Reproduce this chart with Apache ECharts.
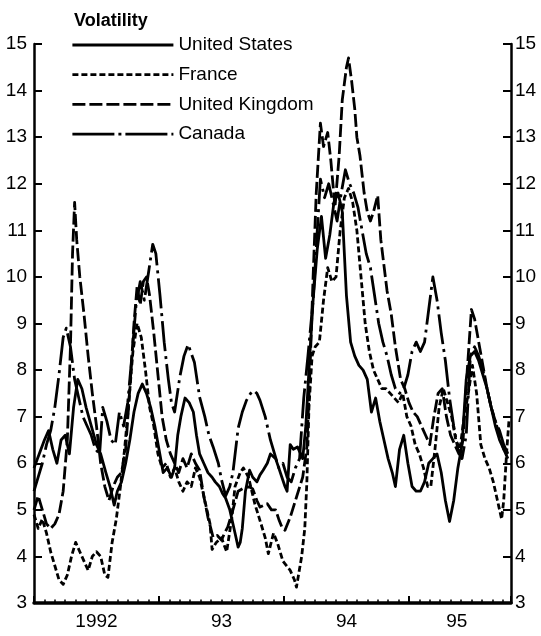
<!DOCTYPE html>
<html>
<head>
<meta charset="utf-8">
<script src="https://cdn.jsdelivr.net/npm/echarts@6/dist/echarts.min.js"></script>
<style>
  html, body { margin: 0; padding: 0; background: #fff; }
  #chart { width: 541px; height: 636px; }
</style>
</head>
<body>
<div id="chart"></div>
<script>
// Time is measured in months from January 1992.
const yearLabels = ['1992', '93', '94', '95'];
const yearLabelMonths = [6, 18, 30, 40.6];

const seriesNames = ['United States', 'France', 'United Kingdom', 'Canada'];

const unitedStates = [
  [0,5.9],[0.5,6.2],[1,6.5],[1.4,6.7],[1.8,6.3],[2.2,6.0],[2.6,6.5],[3,6.6],[3.4,6.2],[3.8,7.2],
  [4.2,7.8],[4.6,7.6],[5,7.2],[5.5,6.8],[6,6.4],[6.4,6.2],[6.9,5.8],[7.3,5.5],[7.7,5.1],[8.0,5.4],
  [8.4,5.6],[8.8,6.0],[9.2,6.5],[9.6,7.1],[10.0,7.5],[10.4,7.7],[10.8,7.5],[11.2,7.2],[11.6,6.8],[12.0,6.3],
  [12.4,5.8],[12.8,5.9],[13.2,5.7],[13.5,5.9],[13.8,6.6],[14.1,7.0],[14.5,7.4],[14.9,7.3],[15.3,7.1],[15.6,6.6],
  [15.9,6.2],[16.3,6.0],[16.7,5.8],[17.1,5.7],[17.4,5.6],[17.8,5.5],[18.1,5.35],[18.4,5.25],[18.8,5.0],[19.1,4.7],
  [19.4,4.4],[19.6,4.2],[19.8,4.3],[20.0,4.6],[20.3,5.4],[20.7,5.85],[21.0,5.7],[21.4,5.6],[21.7,5.75],[22.0,5.85],
  [22.4,6.0],[22.7,6.2],[23.2,6.1],[23.5,5.9],[23.8,5.7],[24.1,5.5],[24.3,5.4],[24.6,6.4],[24.9,6.3],[25.3,6.35],
  [25.8,6.1],[26.1,6.8],[26.4,8.0],[26.8,9.5],[27.2,10.6],[27.6,11.3],[28.0,10.4],[28.4,10.9],[28.8,11.6],[29.2,11.8],
  [29.6,11.4],[30.0,9.6],[30.4,8.6],[30.8,8.3],[31.2,8.1],[31.6,8.0],[32.0,7.8],[32.4,7.1],[32.8,7.4],[33.2,6.9],
  [33.6,6.5],[34.0,6.1],[34.4,5.8],[34.7,5.5],[35.1,6.3],[35.5,6.6],[35.9,6.0],[36.3,5.5],[36.7,5.4],[37.1,5.4],
  [37.5,5.6],[37.9,6.0],[38.3,6.1],[38.7,6.2],[39.1,5.8],[39.5,5.2],[39.9,4.75],[40.3,5.2],[40.7,5.9],[41.1,6.4],
  [41.5,7.8],[41.9,8.3],[42.3,8.4],[42.7,8.2],[43.1,7.9],[43.5,7.6],[43.9,7.2],[44.3,6.8],[44.7,6.5],[45.1,6.3],
  [45.5,6.1]
];

const france = [
  [0,4.9],[0.4,4.6],[0.8,4.8],[1.2,4.5],[1.6,4.1],[2.0,3.8],[2.4,3.5],[2.8,3.4],[3.2,3.6],[3.6,4.0],
  [4.0,4.3],[4.4,4.1],[4.8,3.9],[5.2,3.7],[5.6,4.0],[6.0,4.1],[6.4,4.0],[6.8,3.6],[7.1,3.55],[7.5,4.3],
  [7.9,4.8],[8.3,5.5],[8.7,6.3],[9.1,7.3],[9.5,8.4],[9.9,9.0],[10.3,8.7],[10.7,8.0],[11.1,7.2],[11.5,6.8],
  [11.9,6.2],[12.3,5.9],[12.7,6.0],[13.1,5.7],[13.5,5.9],[13.9,5.6],[14.3,5.4],[14.7,5.6],[15.1,5.5],[15.5,5.9],
  [15.9,5.7],[16.4,5.2],[16.9,4.7],[17.1,4.15],[17.5,4.3],[18.0,4.4],[18.5,4.1],[19.0,4.84],[19.3,5.5],[19.8,5.8],
  [20.1,5.9],[20.6,5.7],[21.2,5.13],[21.7,4.77],[22.2,4.4],[22.5,4.06],[23.0,4.5],[23.4,4.27],[23.9,3.9],[24.6,3.7],
  [25.0,3.5],[25.2,3.34],[25.7,4.0],[26.0,4.6],[26.2,5.6],[26.4,7.2],[26.7,8.3],[27.0,8.5],[27.4,8.6],[27.8,9.5],
  [28.2,10.2],[28.6,9.9],[29.0,10.0],[29.4,11.0],[29.8,11.7],[30.2,11.9],[30.6,11.6],[31.0,11.0],[31.4,10.0],[31.8,9.0],
  [32.2,8.4],[32.6,8.0],[33.0,7.8],[33.4,7.6],[33.8,7.6],[34.2,7.5],[34.6,7.4],[35.0,7.3],[35.4,7.5],[35.8,7.0],
  [36.2,6.8],[36.6,6.4],[37.0,6.2],[37.4,5.9],[37.8,5.5],[38.1,5.5],[38.5,6.3],[38.9,7.2],[39.3,7.6],[39.7,7.3],
  [40.1,7.0],[40.5,6.5],[40.9,6.3],[41.3,7.0],[41.7,7.5],[42.1,8.1],[42.5,7.5],[42.9,6.4],[43.3,6.1],[43.7,5.9],
  [44.1,5.6],[44.5,5.2],[44.9,4.8],[45.1,5.2],[45.4,6.3],[45.6,6.9]
];

const unitedKingdom = [
  [0,5.0],[0.4,5.3],[0.8,5.0],[1.2,4.7],[1.6,4.6],[2.0,4.7],[2.4,4.9],[2.8,5.4],[3.2,6.5],[3.5,8.5],
  [3.7,10.5],[3.9,11.6],[4.1,10.8],[4.4,10.0],[4.8,9.2],[5.2,8.3],[5.6,7.5],[6.0,6.8],[6.4,6.0],[6.8,5.5],
  [7.2,5.2],[7.6,5.5],[8.0,5.7],[8.4,5.8],[8.8,6.3],[9.2,7.6],[9.6,9.0],[9.9,9.8],[10.2,9.4],[10.5,9.9],
  [10.8,10.0],[11.1,9.6],[11.5,8.8],[11.9,7.9],[12.3,7.0],[12.7,6.5],[13.1,6.2],[13.5,6.0],[13.9,5.8],[14.3,6.1],
  [14.7,5.9],[15.1,6.2],[15.5,6.0],[15.9,5.85],[16.3,5.3],[16.7,4.84],[17.2,4.41],[17.6,4.45],[18.0,4.35],[18.3,4.5],
  [18.6,4.63],[19.1,5.0],[19.6,5.4],[20.3,5.49],[20.7,5.49],[21.0,5.45],[21.4,5.2],[21.7,5.06],[22.4,5.13],[22.8,5.0],
  [23.2,5.0],[23.5,4.8],[23.8,4.63],[24.1,4.56],[24.6,4.84],[25.2,5.27],[25.8,5.7],[26.2,6.35],[26.5,8.0],[26.8,10.0],
  [27.1,11.8],[27.5,13.3],[27.8,12.8],[28.2,13.1],[28.5,12.5],[28.9,11.5],[29.3,12.6],[29.6,13.8],[30.0,14.5],[30.2,14.7],
  [30.5,14.2],[30.8,13.6],[31.0,13.0],[31.3,12.6],[31.7,11.8],[32.0,11.4],[32.3,11.2],[32.6,11.4],[33.0,11.75],[33.3,10.8],
  [33.9,9.7],[34.3,9.2],[34.7,8.5],[35.2,7.8],[35.6,7.6],[36.0,7.3],[36.4,7.1],[36.8,7.0],[37.2,6.8],[37.6,6.6],
  [38.0,6.4],[38.4,7.0],[38.8,7.5],[39.2,7.6],[39.6,7.0],[40.0,6.6],[40.4,6.4],[40.8,6.2],[41.2,6.5],[41.6,8.0],
  [42.0,9.3],[42.3,9.1],[42.7,8.6],[43.1,8.1],[43.5,7.6],[43.9,7.2],[44.3,6.9],[44.7,6.6],[45.1,6.3],[45.5,6.2]
];

const canada = [
  [0,5.4],[0.4,5.7],[0.8,6.0],[1.2,6.4],[1.6,6.7],[2.0,7.2],[2.4,7.9],[2.8,8.7],[3.1,8.9],[3.5,8.5],
  [3.9,7.8],[4.3,7.4],[4.7,7.0],[5.1,6.8],[5.5,6.6],[5.9,6.3],[6.3,6.2],[6.6,7.2],[7.0,6.9],[7.4,6.5],
  [7.8,6.4],[8.2,7.1],[8.6,6.8],[9.0,7.3],[9.4,8.3],[9.8,9.4],[10.2,9.9],[10.6,9.5],[11.0,10.1],[11.4,10.7],
  [11.7,10.5],[12.1,9.6],[12.5,8.6],[12.9,7.8],[13.2,7.3],[13.5,7.1],[14.0,7.85],[14.4,8.3],[14.8,8.55],[15.4,8.17],
  [15.9,7.42],[16.4,7.0],[16.8,6.6],[17.2,6.35],[17.7,6.0],[18.0,5.65],[18.4,5.3],[18.8,5.5],[19.1,5.8],[19.6,6.75],
  [20.0,7.1],[20.4,7.35],[20.8,7.5],[21.1,7.56],[21.4,7.5],[21.7,7.35],[22.2,7.0],[22.7,6.5],[23.1,6.2],[23.5,5.9],
  [23.9,6.0],[24.3,5.7],[24.7,5.6],[25.1,5.9],[25.5,6.1],[25.9,7.4],[26.3,8.3],[26.8,9.5],[27.2,11.0],[27.5,12.1],
  [27.9,11.7],[28.3,12.0],[28.7,11.6],[29.1,11.2],[29.5,11.8],[29.9,12.3],[30.3,12.0],[30.7,11.8],[31.1,11.5],[31.5,11.0],
  [31.9,10.5],[32.3,10.2],[32.7,9.6],[33.1,9.0],[33.5,8.6],[33.9,8.3],[34.3,7.9],[34.7,7.6],[35.1,7.5],[35.5,7.6],
  [35.9,7.9],[36.3,8.4],[36.7,8.6],[37.1,8.4],[37.5,8.6],[37.9,9.3],[38.3,10.0],[38.7,9.5],[39.1,8.8],[39.5,8.2],
  [39.9,7.4],[40.3,6.8],[40.7,6.3],[41.1,6.1],[41.5,6.6],[41.9,8.3],[42.3,8.5],[42.7,8.3],[43.1,8.0],[43.5,7.6],
  [43.9,7.2],[44.3,6.9],[44.7,6.7],[45.1,6.4],[45.5,6.2]
];

const seriesData = [unitedStates, france, unitedKingdom, canada];
const dashTypes = ['solid', [6, 3], [13, 4], [30, 5, 3, 5]];
const legendDash = ['solid', [6, 3], [13, 4], [42, 4, 3, 4]];

const FONT = '"Liberation Sans", Arial, Helvetica, sans-serif';
const LINE_W = 2.8;

const chart = echarts.init(document.getElementById('chart'), null, { renderer: 'canvas' });

const yAxisCommon = {
  type: 'value',
  min: 3,
  max: 15,
  interval: 1,
  splitLine: { show: false },
  axisLine: { show: true, lineStyle: { color: '#000', width: 2.5 } },
  axisTick: { show: true, inside: true, length: 8, lineStyle: { color: '#000', width: 2 } },
  axisLabel: { color: '#000', fontSize: 19, fontFamily: FONT }
};

chart.setOption({
  animation: false,
  backgroundColor: '#fff',
  color: ['#000'],
  title: {
    text: 'Volatility',
    left: 69,
    top: 7,
    textStyle: { fontFamily: FONT, fontWeight: 'bold', fontSize: 18, color: '#000' }
  },
  legend: {
    orient: 'vertical',
    left: 66,
    top: 30.5,
    itemWidth: 101,
    itemHeight: 19,
    itemGap: 10.7,
    selectedMode: false,
    textStyle: { fontFamily: FONT, fontSize: 19, color: '#000', lineHeight: 19 },
    data: seriesNames.map((name, i) => ({
      name: name,
      itemStyle: { opacity: 0 },
      lineStyle: { type: legendDash[i], width: LINE_W, color: '#000' }
    }))
  },
  grid: { left: 34, right: 30, top: 44, bottom: 33, containLabel: false },
  xAxis: {
    type: 'value',
    min: 0,
    max: 45.8,
    interval: 12,
    splitLine: { show: false },
    axisLine: { show: true, onZero: false, lineStyle: { color: '#000', width: 3.5 } },
    axisTick: { show: true, inside: true, length: 7, lineStyle: { color: '#000', width: 2 } },
    minorTick: { show: true, splitNumber: 12, length: 3.5, lineStyle: { color: '#000', width: 1.5 } },
    axisLabel: {
      color: '#000',
      fontSize: 19,
      fontFamily: FONT,
      margin: 9,
      customValues: yearLabelMonths,
      formatter: function (v) {
        const i = yearLabelMonths.findIndex(m => Math.abs(m - v) < 1e-6);
        return i >= 0 ? yearLabels[i] : '';
      }
    }
  },
  yAxis: [
    Object.assign({}, yAxisCommon, {
      position: 'left',
      axisLabel: Object.assign({}, yAxisCommon.axisLabel, { margin: 7 })
    }),
    Object.assign({}, yAxisCommon, {
      position: 'right',
      axisLabel: Object.assign({}, yAxisCommon.axisLabel, { margin: 4 })
    })
  ],
  series: seriesNames.map((name, i) => ({
    name: name,
    type: 'line',
    yAxisIndex: 0,
    data: seriesData[i],
    symbol: 'none',
    smooth: false,
    z: 2,
    itemStyle: { color: '#000' },
    lineStyle: { color: '#000', width: LINE_W, type: dashTypes[i], cap: 'butt', join: 'round' }
  }))
});
</script>
</body>
</html>
